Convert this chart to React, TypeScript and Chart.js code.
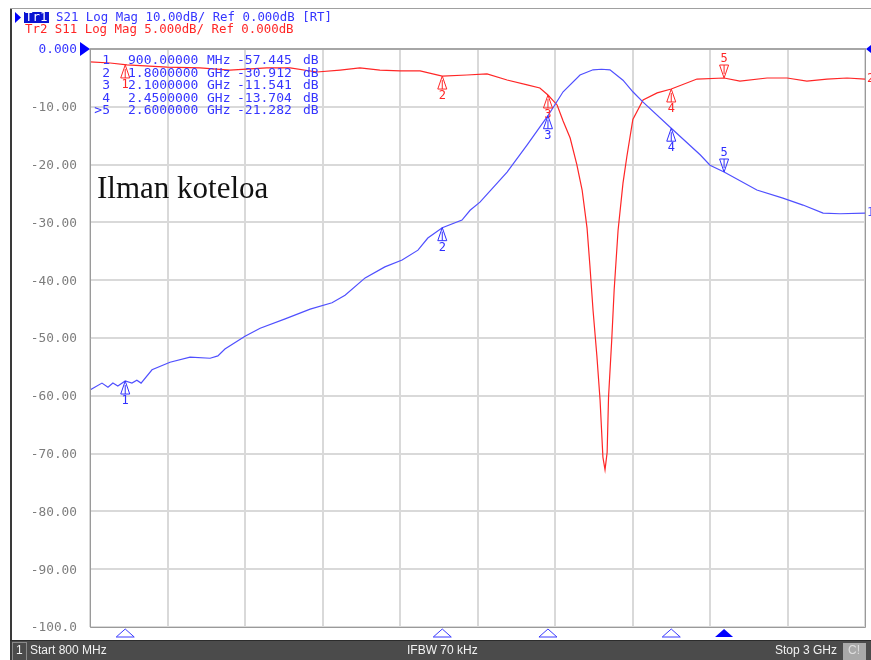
import React, { useEffect, useRef } from "react";
import { Chart, registerables } from "chart.js";

Chart.register(...registerables);

// Sweep span (MHz) and grid divisions
const START_MHZ = 800;
const STOP_MHZ = 3000;
const X_GRID_MHZ = [800, 1020, 1240, 1460, 1680, 1900, 2120, 2340, 2560, 2780, 3000];
const Y_GRID_DB = [0, -10, -20, -30, -40, -50, -60, -70, -80, -90, -100];

// Tr1: S21 log magnitude (10 dB/div, ref 0 dB)
const S21_FREQ_MHZ = [
  800, 834, 851, 865, 879, 900, 919, 933, 945, 976,
  1027, 1084, 1141, 1163, 1183, 1240, 1283, 1354, 1425, 1487,
  1524, 1581, 1637, 1686, 1731, 1759, 1800, 1856, 1879, 1907,
  1984, 2041, 2100, 2143, 2191, 2228, 2252, 2276, 2313, 2341,
  2370, 2450, 2532, 2560, 2600, 2693, 2767, 2824, 2881, 2929, 3000,
];
const S21_DB = [
  -59.0, -57.8, -58.5, -57.8, -58.3, -57.445, -57.8, -57.3, -57.8, -55.5,
  -54.2, -53.3, -53.5, -53.1, -51.9, -49.7, -48.3, -46.7, -45.0, -43.9,
  -42.6, -39.6, -37.7, -36.5, -34.8, -32.7, -30.912, -29.6, -27.9, -26.5,
  -21.3, -16.6, -11.541, -7.4, -4.5, -3.6, -3.5, -3.6, -5.4, -7.4,
  -9.2, -13.704, -18.3, -20.1, -21.282, -24.4, -25.8, -27.0, -28.4, -28.5, -28.4,
];

// Tr2: S11 log magnitude (5 dB/div, ref 0 dB)
const S11_FREQ_MHZ = [
  800, 857, 905, 1019, 1112, 1197, 1302, 1368, 1444, 1510,
  1566, 1623, 1680, 1737, 1800, 1870, 1927, 1984, 2041, 2077,
  2100, 2126, 2143, 2163, 2182, 2197, 2211, 2219, 2228, 2239,
  2248, 2256, 2262, 2268, 2272, 2281, 2288, 2299, 2313, 2324,
  2341, 2370, 2410, 2450, 2523, 2600, 2645, 2722, 2779, 2835,
  2892, 2949, 3000,
];
const S11_DB = [
  -1.12, -1.21, -1.38, -1.56, -1.64, -1.82, -1.64, -1.64, -1.99, -1.82,
  -1.64, -1.82, -1.9, -1.9, -2.34, -2.25, -2.16, -2.68, -3.11, -3.37,
  -3.98, -4.84, -6.23, -7.7, -10.0, -12.2, -15.5, -18.7, -22.6, -26.6,
  -30.4, -35.3, -36.4, -34.9, -30.1, -25.2, -20.8, -15.7, -11.6, -9.3,
  -6.1, -4.4, -3.8, -3.46, -2.6, -2.51, -2.77, -2.51, -2.51, -2.77,
  -2.6, -2.51, -2.6,
];

// Markers
const MARKER_IDS = ["1", "2", "3", "4", "5"];
const MARKER_FREQ_MHZ = [900, 1800, 2100, 2450, 2600];
const MARKER_FREQ_TEXT = ["900.00000", "1.8000000", "2.1000000", "2.4500000", "2.6000000"];
const MARKER_UNIT_TEXT = ["MHz", "GHz", "GHz", "GHz", "GHz"];
const MARKER_S21_DB = [-57.445, -30.912, -11.541, -13.704, -21.282];
const MARKER_S11_DB = [-1.38, -2.34, -3.98, -3.46, -2.51];
const ACTIVE_MARKER = 4;

const TR1_HEADER = "S21 Log Mag 10.00dB/ Ref 0.000dB [RT]";
const TR2_HEADER = "Tr2 S11 Log Mag 5.000dB/ Ref 0.000dB";
const NOTE_TEXT = "Ilman koteloa";
const STATUS_START = "Start 800 MHz";
const STATUS_IFBW = "IFBW 70 kHz";
const STATUS_STOP = "Stop 3 GHz";

const BLUE = "#4f4fff";
const BLUE_TEXT = "#3535ff";
const RED = "#ff2626";
const MONO = "'DejaVu Sans Mono', monospace";

function fmtDb(v: number): string {
  const s = Math.abs(v).toPrecision(4);
  return v < 0 ? "-" + s : s;
}

function drawMarker(
  ctx: CanvasRenderingContext2D,
  px: number,
  py: number,
  label: string,
  color: string,
  down: boolean
) {
  const h = 13;
  const w = 4.5;
  ctx.save();
  ctx.strokeStyle = color;
  ctx.fillStyle = color;
  ctx.lineWidth = 1;
  ctx.beginPath();
  if (!down) {
    ctx.moveTo(px, py);
    ctx.lineTo(px + w, py + h);
    ctx.lineTo(px - w, py + h);
    ctx.closePath();
    ctx.moveTo(px, py + 4);
    ctx.lineTo(px, py + h);
  } else {
    ctx.moveTo(px, py);
    ctx.lineTo(px + w, py - h);
    ctx.lineTo(px - w, py - h);
    ctx.closePath();
    ctx.moveTo(px, py - 4);
    ctx.lineTo(px, py - h);
  }
  ctx.stroke();
  ctx.font = `12px ${MONO}`;
  ctx.textAlign = "center";
  ctx.textBaseline = "middle";
  ctx.fillText(label, px, down ? py - h - 6 : py + h + 7);
  ctx.restore();
}

const analyzerFrame = {
  id: "analyzerFrame",
  beforeDraw(chart: any) {
    const ctx = chart.ctx as CanvasRenderingContext2D;
    ctx.save();
    ctx.fillStyle = "#ffffff";
    ctx.fillRect(0, 0, chart.width, chart.height);
    ctx.restore();
  },
  afterDraw(chart: any) {
    const ctx = chart.ctx as CanvasRenderingContext2D;
    const area = chart.chartArea;
    const xs = chart.scales.x;
    const ys = chart.scales.y;
    const ys2 = chart.scales.y2;
    const W = chart.width;
    const H = chart.height;

    ctx.save();

    // plot frame
    ctx.strokeStyle = "#a6a6a6";
    ctx.lineWidth = 2;
    ctx.beginPath();
    ctx.moveTo(area.left, area.top);
    ctx.lineTo(area.right + 1, area.top);
    ctx.stroke();
    ctx.lineWidth = 1;
    ctx.strokeStyle = "#9a9a9a";
    ctx.beginPath();
    ctx.moveTo(area.left + 0.5, area.top);
    ctx.lineTo(area.left + 0.5, area.bottom + 0.5);
    ctx.lineTo(area.right + 0.5, area.bottom + 0.5);
    ctx.lineTo(area.right + 0.5, area.top);
    ctx.stroke();

    // window edges
    ctx.fillStyle = "#3a3a3a";
    ctx.fillRect(10, 8, 2, H - 8);
    ctx.fillStyle = "#a0a0a0";
    ctx.fillRect(10, 8, W - 10, 1);

    // header lines
    ctx.fillStyle = "#0000ff";
    ctx.beginPath();
    ctx.moveTo(15, 12);
    ctx.lineTo(21, 17.5);
    ctx.lineTo(15, 23);
    ctx.closePath();
    ctx.fill();
    ctx.fillStyle = "#0a14d2";
    ctx.fillRect(24, 12, 25, 11);
    ctx.font = `12.4px ${MONO}`;
    ctx.textBaseline = "middle";
    ctx.textAlign = "left";
    ctx.fillStyle = "#ffffff";
    ctx.fillText("Tr1", 25, 17.5);
    ctx.fillStyle = BLUE_TEXT;
    ctx.fillText(TR1_HEADER, 56, 17.5);
    ctx.fillStyle = RED;
    ctx.fillText(TR2_HEADER, 25, 30);

    // y scale labels
    ctx.font = `12.8px ${MONO}`;
    ctx.textAlign = "right";
    Y_GRID_DB.forEach((v) => {
      const py = ys.getPixelForValue(v);
      ctx.fillStyle = v === 0 ? BLUE_TEXT : "#7c7c7c";
      ctx.fillText(fmtDb(v), 77, py + 1);
    });

    // reference level pointers
    const refY = ys.getPixelForValue(0);
    ctx.fillStyle = "#0000ff";
    ctx.beginPath();
    ctx.moveTo(80, refY - 7);
    ctx.lineTo(area.left, refY);
    ctx.lineTo(80, refY + 7);
    ctx.closePath();
    ctx.fill();
    ctx.beginPath();
    ctx.moveTo(W + 4, refY - 7);
    ctx.lineTo(area.right + 1, refY);
    ctx.lineTo(W + 4, refY + 7);
    ctx.closePath();
    ctx.fill();

    // trace end tags
    ctx.font = `12px ${MONO}`;
    ctx.textAlign = "left";
    ctx.fillStyle = BLUE;
    ctx.fillText("1", area.right + 2, ys.getPixelForValue(S21_DB[S21_DB.length - 1]));
    ctx.fillStyle = RED;
    ctx.fillText("2", area.right + 2, ys2.getPixelForValue(S11_DB[S11_DB.length - 1]));

    // markers on both traces
    MARKER_FREQ_MHZ.forEach((f, i) => {
      const px = xs.getPixelForValue(f);
      const down = i === ACTIVE_MARKER;
      drawMarker(ctx, px, ys2.getPixelForValue(MARKER_S11_DB[i]), MARKER_IDS[i], RED, down);
      drawMarker(ctx, px, ys.getPixelForValue(MARKER_S21_DB[i]), MARKER_IDS[i], "#2f2fff", down);
    });

    // marker position indicators below the grid
    MARKER_FREQ_MHZ.forEach((f, i) => {
      const px = xs.getPixelForValue(f);
      ctx.beginPath();
      ctx.moveTo(px, area.bottom + 2);
      ctx.lineTo(px + 9, area.bottom + 10);
      ctx.lineTo(px - 9, area.bottom + 10);
      ctx.closePath();
      if (i === ACTIVE_MARKER) {
        ctx.fillStyle = "#0000ff";
        ctx.fill();
      } else {
        ctx.strokeStyle = "#3b3bff";
        ctx.lineWidth = 1;
        ctx.stroke();
      }
    });

    // marker readout table
    ctx.font = `13px ${MONO}`;
    ctx.fillStyle = BLUE_TEXT;
    MARKER_IDS.forEach((id, i) => {
      const rowY = 61 + i * 12.5;
      ctx.textAlign = "right";
      ctx.fillText(i === ACTIVE_MARKER ? ">" + id : id, 110, rowY);
      ctx.textAlign = "left";
      ctx.fillText(MARKER_FREQ_TEXT[i], 128, rowY);
      ctx.fillText(MARKER_UNIT_TEXT[i], 207, rowY);
      ctx.fillText(MARKER_S21_DB[i].toFixed(3), 237, rowY);
      ctx.fillText("dB", 303, rowY);
    });

    // annotation
    ctx.font = "31px 'Liberation Serif', serif";
    ctx.textBaseline = "alphabetic";
    ctx.fillStyle = "#111111";
    ctx.fillText(NOTE_TEXT, 97, 198);

    // status bar
    const barTop = 641;
    ctx.fillStyle = "#2c2c2c";
    ctx.fillRect(10, barTop - 1, W - 10, 1);
    ctx.fillStyle = "#4b4b4b";
    ctx.fillRect(12, barTop, W - 12, H - barTop);
    ctx.strokeStyle = "#8a8a8a";
    ctx.lineWidth = 1;
    ctx.strokeRect(12.5, barTop + 1.5, 14, H - barTop);
    ctx.fillStyle = "#a9a9a9";
    ctx.fillRect(843, barTop + 2, 23, H - barTop - 2);
    ctx.font = "12px 'Liberation Sans', sans-serif";
    ctx.textBaseline = "middle";
    ctx.textAlign = "left";
    ctx.fillStyle = "#f2f2f2";
    ctx.fillText("1", 16, barTop + 10);
    ctx.fillText(STATUS_START, 30, barTop + 10);
    ctx.fillText(STATUS_IFBW, 407, barTop + 10);
    ctx.fillText(STATUS_STOP, 775, barTop + 10);
    ctx.fillStyle = "#dedede";
    ctx.fillText("C!", 848, barTop + 10);

    ctx.restore();
  },
};

export default function App() {
  const canvasRef = useRef<HTMLCanvasElement | null>(null);

  useEffect(() => {
    const canvas = canvasRef.current;
    if (!canvas) return;
    const gridTicks = (values: number[]) => (scale: any) => {
      scale.ticks = values.map((v) => ({ value: v }));
    };
    const chart = new Chart(canvas, {
      type: "line",
      data: {
        datasets: [
          {
            label: "S21",
            data: S21_FREQ_MHZ.map((f, i) => ({ x: f, y: S21_DB[i] })),
            borderColor: BLUE,
            borderWidth: 1.2,
            pointRadius: 0,
            tension: 0,
            yAxisID: "y",
          },
          {
            label: "S11",
            data: S11_FREQ_MHZ.map((f, i) => ({ x: f, y: S11_DB[i] })),
            borderColor: RED,
            borderWidth: 1.2,
            pointRadius: 0,
            tension: 0,
            yAxisID: "y2",
          },
        ],
      },
      options: {
        responsive: false,
        animation: false,
        devicePixelRatio: 1,
        layout: { padding: { left: 90, top: 49, right: 6, bottom: 33 } },
        plugins: {
          legend: { display: false },
          tooltip: { enabled: false },
          title: { display: false },
        },
        scales: {
          x: {
            type: "linear",
            min: START_MHZ,
            max: STOP_MHZ,
            afterBuildTicks: gridTicks(X_GRID_MHZ),
            ticks: { display: false },
            grid: { color: "#d9d9d9", lineWidth: 2, drawTicks: false },
            border: { display: false },
          },
          y: {
            type: "linear",
            min: -100,
            max: 0,
            afterBuildTicks: gridTicks(Y_GRID_DB),
            ticks: { display: false },
            grid: { color: "#d9d9d9", lineWidth: 2, drawTicks: false },
            border: { display: false },
          },
          y2: {
            type: "linear",
            display: false,
            min: -50,
            max: 0,
          },
        },
      },
      plugins: [analyzerFrame],
    });
    return () => chart.destroy();
  }, []);

  return (
    <div style={{ position: "fixed", left: 0, top: 0, width: 871, height: 660 }}>
      <canvas ref={canvasRef} width={871} height={660} style={{ display: "block" }} />
    </div>
  );
}
